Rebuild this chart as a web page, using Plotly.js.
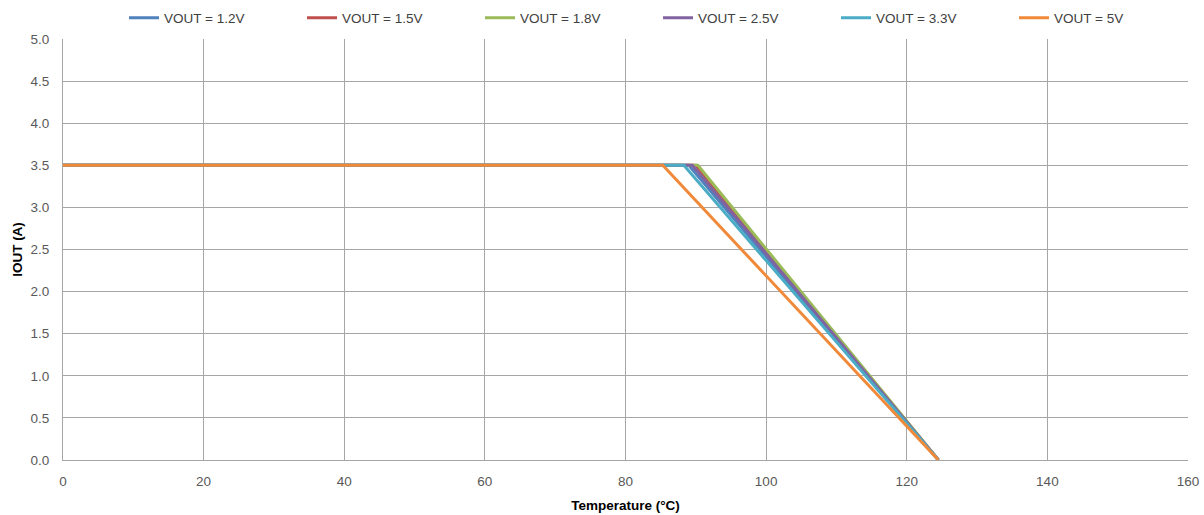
<!DOCTYPE html>
<html>
<head>
<meta charset="utf-8">
<script src="https://cdn.plot.ly/plotly-3.0.1.min.js"></script>
<style>html,body{margin:0;padding:0;background:#fff;}#chart{width:1204px;height:515px;}</style>
</head>
<body>
<div id="chart"></div>
<script>
const seriesNames = ["VOUT = 1.2V", "VOUT = 1.5V", "VOUT = 1.8V", "VOUT = 2.5V", "VOUT = 3.3V", "VOUT = 5V"];
const seriesColors = ["#4F81BD", "#C0504D", "#9BBB59", "#8064A2", "#4BACC6", "#F08A3A"];
const temp_12 = [0, 89, 124.5];
const iout_12 = [3.5, 3.5, 0];
const temp_15 = [0, 90, 124.5];
const iout_15 = [3.5, 3.5, 0];
const temp_18 = [0, 90.3, 124.5];
const iout_18 = [3.5, 3.5, 0];
const temp_25 = [0, 89.5, 124.5];
const iout_25 = [3.5, 3.5, 0];
const temp_33 = [0, 88.3, 124.5];
const iout_33 = [3.5, 3.5, 0];
const temp_50 = [0, 85.3, 124.5];
const iout_50 = [3.5, 3.5, 0];

const xs = [temp_12, temp_15, temp_18, temp_25, temp_33, temp_50];
const ys = [iout_12, iout_15, iout_18, iout_25, iout_33, iout_50];

const font = "Liberation Sans, Arial, sans-serif";
const traces = seriesNames.map((n, i) => ({
  x: xs[i], y: ys[i], name: n, type: "scatter", mode: "lines",
  line: {color: seriesColors[i], width: 3}
}));

const layout = {
  width: 1204, height: 515,
  margin: {l: 63, r: 16, t: 39, b: 55},
  paper_bgcolor: "#fff", plot_bgcolor: "#fff",
  font: {family: font, size: 13.5, color: "#595959"},
  showlegend: true,
  legend: {
    orientation: "h", xref: "container", yref: "container",
    x: 0.103, xanchor: "left", y: 0.995, yanchor: "top",
    entrywidth: 133, entrywidthmode: "pixels",
    font: {family: font, size: 13.5, color: "#404040"},
    tracegroupgap: 0, itemwidth: 30
  },
  xaxis: {
    range: [0, 160], dtick: 20, tick0: 0,
    showgrid: true, gridcolor: "#A6A6A6", gridwidth: 1,
    showline: true, linecolor: "#A6A6A6", linewidth: 1,
    zeroline: false, ticks: "outside", ticklen: 9, tickcolor: "rgba(0,0,0,0)",
    tickfont: {family: font, size: 13.5, color: "#595959"},
    title: {text: "<b>Temperature (°C)</b>", font: {family: font, size: 13.5, color: "#000"}, standoff: 12}
  },
  yaxis: {
    range: [0, 5], dtick: 0.5, tick0: 0, tickformat: ".1f",
    showgrid: true, gridcolor: "#A6A6A6", gridwidth: 1,
    showline: true, linecolor: "#A6A6A6", linewidth: 1,
    zeroline: false, ticks: "outside", ticklen: 10, tickcolor: "rgba(0,0,0,0)",
    tickfont: {family: font, size: 13.5, color: "#595959"},
    title: {text: "<b>IOUT (A)</b>", font: {family: font, size: 13.5, color: "#000"}, standoff: 4}
  }
};
Plotly.newPlot("chart", traces, layout, {displayModeBar: false, staticPlot: true});
</script>
</body>
</html>
